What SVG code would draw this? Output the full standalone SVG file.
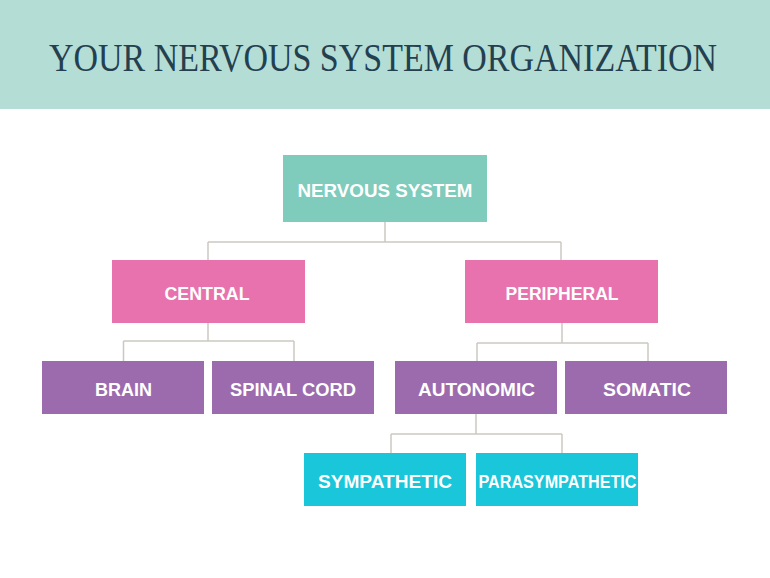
<svg xmlns="http://www.w3.org/2000/svg" width="770" height="578" viewBox="0 0 770 578">
<style>
.lbl{font-family:"Liberation Sans",Arial,sans-serif;font-weight:bold;font-size:17.5px;fill:#ffffff;text-anchor:middle}
.conn{fill:none;stroke:#cdc7c1;stroke-width:1.5}
.title{font-family:"Liberation Serif","Times New Roman",serif;font-size:41px;fill:#24404f;text-anchor:middle}
</style>
<rect x="0" y="0" width="770" height="578" fill="#ffffff"/>
<g id="header">
<rect x="0" y="0" width="770" height="109" fill="#b4ddd6"/>
<text class="title" x="383" y="71" textLength="668" lengthAdjust="spacingAndGlyphs">YOUR NERVOUS SYSTEM ORGANIZATION</text>
</g>
<g id="connectors">
<path class="conn" d="M385 222V242M208 242H561M208 242V260M561 242V260"/>
<path class="conn" d="M208 323V341M123.5 341H294M123.5 341V361M294 341V361"/>
<path class="conn" d="M562 323V343M477 343H648M477 343V361M648 343V361"/>
<path class="conn" d="M476 414V434M391 434H562M391 434V453M562 434V453"/>
</g>
<g id="nervous-system">
<rect x="283" y="155" width="204" height="67" fill="#7fcbbc"/>
<text class="lbl" x="385" y="197" textLength="175" lengthAdjust="spacingAndGlyphs">NERVOUS SYSTEM</text>
</g>
<g id="central">
<rect x="112" y="260" width="193" height="63" fill="#e772ae"/>
<text class="lbl" x="207" y="300" textLength="85" lengthAdjust="spacingAndGlyphs">CENTRAL</text>
</g>
<g id="peripheral">
<rect x="465" y="260" width="193" height="63" fill="#e772ae"/>
<text class="lbl" x="562" y="300" textLength="113" lengthAdjust="spacingAndGlyphs">PERIPHERAL</text>
</g>
<g id="brain">
<rect x="42" y="361" width="162" height="53" fill="#9b6bae"/>
<text class="lbl" x="123.5" y="396" textLength="57" lengthAdjust="spacingAndGlyphs">BRAIN</text>
</g>
<g id="spinal-cord">
<rect x="212" y="361" width="162" height="53" fill="#9b6bae"/>
<text class="lbl" x="293" y="396" textLength="126" lengthAdjust="spacingAndGlyphs">SPINAL CORD</text>
</g>
<g id="autonomic">
<rect x="395" y="361" width="162" height="53" fill="#9b6bae"/>
<text class="lbl" x="476.5" y="396" textLength="117" lengthAdjust="spacingAndGlyphs">AUTONOMIC</text>
</g>
<g id="somatic">
<rect x="565" y="361" width="162" height="53" fill="#9b6bae"/>
<text class="lbl" x="647" y="396" textLength="88" lengthAdjust="spacingAndGlyphs">SOMATIC</text>
</g>
<g id="sympathetic">
<rect x="304" y="453" width="162" height="53" fill="#19c6da"/>
<text class="lbl" x="385" y="488" textLength="134" lengthAdjust="spacingAndGlyphs">SYMPATHETIC</text>
</g>
<g id="parasympathetic">
<rect x="476" y="453" width="162" height="53" fill="#19c6da"/>
<text class="lbl" x="557.5" y="488" textLength="158" lengthAdjust="spacingAndGlyphs">PARASYMPATHETIC</text>
</g>
</svg>
